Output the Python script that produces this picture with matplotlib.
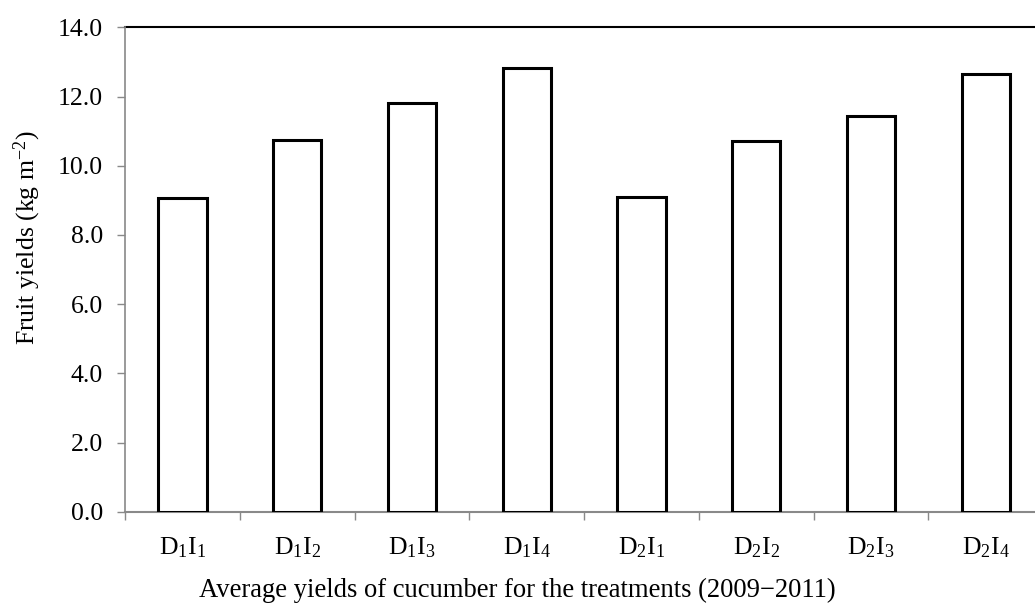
import matplotlib.pyplot as plt
import numpy as np

plt.rcParams['font.family'] = ['Liberation Serif', 'DejaVu Serif']
plt.rcParams['mathtext.fontset'] = 'custom'
plt.rcParams['mathtext.rm'] = 'Liberation Serif'
plt.rcParams['mathtext.it'] = 'Liberation Serif:italic'

# treatments and average fruit yields (kg m-2)
treatments = ['D$_1$I$_1$', 'D$_1$I$_2$', 'D$_1$I$_3$', 'D$_1$I$_4$',
              'D$_2$I$_1$', 'D$_2$I$_2$', 'D$_2$I$_3$', 'D$_2$I$_4$']
yields = [9.08, 10.74, 11.80, 12.83, 9.10, 10.72, 11.45, 12.66]
y_ticks = [0, 2, 4, 6, 8, 10, 12, 14]

fig = plt.figure(figsize=(10.35, 6.14), dpi=100)
ax = fig.add_axes([0.1208, 0.1666, 0.887, 0.7889])

x = np.arange(len(yields))
ax.bar(x, yields, width=0.42, color='white', edgecolor='black', linewidth=2.2, zorder=3)

ax.set_xlim(-0.5, len(yields) - 0.5)
ax.set_ylim(0, 14)
ax.axhline(14, color='black', linewidth=1.5, clip_on=False)

# y axis
ax.set_yticks(y_ticks)
ax.set_yticklabels(['%.1f' % t for t in y_ticks], fontsize=18.5)
ax.tick_params(axis='y', length=6, width=1, color='#898989', pad=10)

# x axis: ticks between categories, labels centred
ax.set_xticks(np.arange(-0.5, len(yields), 1.0))
ax.set_xticklabels([])
ax.set_xticks(x, minor=True)
ax.set_xticklabels(treatments, minor=True, fontsize=18.5)
ax.tick_params(axis='x', which='major', length=6, width=1, color='#898989')
ax.tick_params(axis='x', which='minor', length=0, pad=17)

for s in ['top', 'right']:
    ax.spines[s].set_visible(False)
ax.spines['left'].set_color('#898989')
ax.spines['bottom'].set_color('#898989')
ax.spines['left'].set_linewidth(1.2)
ax.spines['bottom'].set_linewidth(1.5)

ax.set_ylabel('Fruit yields (kg m$^{\u2212 2}$)', fontsize=18.5, labelpad=10.5, y=0.565)
fig.text(0.5, 0.039, 'Average yields of cucumber for the treatments (2009\u22122011)',
         ha='center', va='center', fontsize=19.2)

fig.savefig('out.png', dpi=100)
